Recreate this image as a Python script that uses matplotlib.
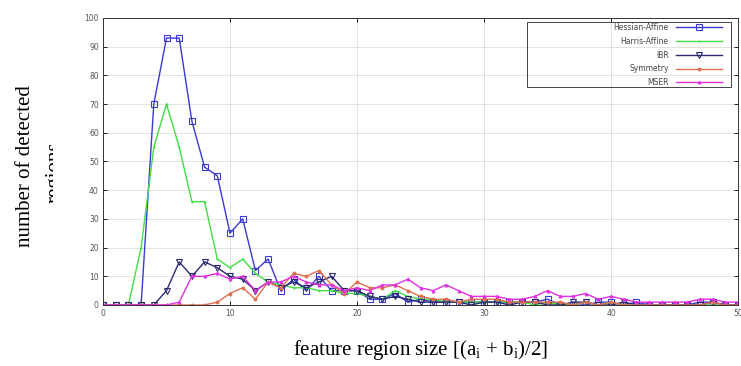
import matplotlib
matplotlib.use("Agg")
import matplotlib.pyplot as plt
from matplotlib.patches import Rectangle

plt.rcParams['mathtext.fontset'] = 'custom'
plt.rcParams['mathtext.rm'] = 'Liberation Serif'
plt.rcParams['mathtext.it'] = 'Liberation Serif:italic'

sizes = list(range(0, 51))

hessian_affine = [0, 0, 0, 0, 70, 93, 93, 64, 48, 45, 25, 30, 12, 16, 5, 9, 5, 10, 5, 5,
                  5, 2, 2, 4, 1, 2, 1, 1, 1, 1, 1, 1, 1, 1, 1, 2, 0, 0, 0, 1,
                  1, 0, 1, 0, 0, 0, 0, 1, 1, 0, 0]
harris_affine = [0, 0, 0, 20, 55, 70, 55, 36, 36, 16, 13, 16, 11, 8, 7, 6, 6, 5, 5, 4,
                 4, 3, 2, 5, 3, 2, 2, 1, 1, 1, 1, 1, 1, 1, 0, 1, 0, 0, 1, 0,
                 1, 0, 0, 0, 0, 0, 0, 0, 0, 0, 0]
ibr = [0, 0, 0, 0, 0, 5, 15, 10, 15, 13, 10, 9, 5, 8, 6, 8, 6, 8, 10, 5,
       5, 3, 2, 3, 2, 1, 1, 1, 1, 0, 1, 1, 0, 1, 1, 0, 0, 1, 1, 0,
       0, 1, 0, 0, 0, 0, 0, 0, 1, 0, 0]
symmetry = [0, 0, 0, 0, 0, 0, 0, 0, 0, 1, 4, 6, 2, 8, 6, 11, 10, 12, 7, 4,
            8, 6, 6, 7, 5, 3, 2, 2, 1, 2, 2, 2, 1, 1, 1, 1, 1, 0, 1, 0,
            1, 0, 0, 0, 0, 0, 0, 0, 1, 0, 0]
mser = [0, 0, 0, 0, 0, 0, 1, 10, 10, 11, 9, 10, 5, 8, 8, 10, 8, 7, 7, 5,
        6, 5, 7, 7, 9, 6, 5, 7, 5, 3, 3, 3, 2, 2, 3, 5, 3, 3, 4, 2,
        3, 2, 1, 1, 1, 1, 1, 2, 2, 1, 1]

series = [
    ("Hessian-Affine", hessian_affine, "#3a3ad0", "s", "none", 3.8),
    ("Harris-Affine", harris_affine, "#40e040", "+", "#40e040", 2.0),
    ("IBR", ibr, "#2a2a70", "v", "none", 3.8),
    ("Symmetry", symmetry, "#e07050", "o", "#e07050", 2.0),
    ("MSER", mser, "#e030e0", "^", "#e030e0", 2.0),
]

fig = plt.figure(figsize=(7.41, 3.66), dpi=100)
ax = fig.add_axes([0.139, 0.1667, 0.857, 0.7843])

for label, vals, color, marker, mfc, ms in series:
    ax.plot(sizes, vals, color=color, lw=1.0, marker=marker, markersize=ms,
            markerfacecolor=mfc, markeredgecolor=color, markeredgewidth=0.8,
            label=label)

ax.set_xlim(0, 50)
ax.set_ylim(0, 100)
ax.set_xticks(range(0, 51, 10))
ax.set_yticks(range(0, 101, 10))
ax.tick_params(direction='in', length=3, width=0.6, labelsize=5.5,
               labelcolor='#555555', top=True, right=True, pad=3)
ax.grid(True, color='#dddddd', lw=0.6)
for s in ax.spines.values():
    s.set_linewidth(0.7)
    s.set_color('#333333')

leg = ax.legend(loc='upper right', markerfirst=False, fontsize=5.5,
                handlelength=6.0, handletextpad=1.0, frameon=False,
                labelspacing=0.62, borderpad=0, borderaxespad=0,
                bbox_to_anchor=(0.975, 0.982))
for t in leg.get_texts():
    t.set_color('#444444')
fig.add_artist(Rectangle((0.711, 0.762), 0.275, 0.178, transform=fig.transFigure,
                         facecolor='none', edgecolor='#444444', lw=0.7, zorder=6))

serif = ['Liberation Serif', 'DejaVu Serif']
ax.set_xlabel(r"feature region size [(a$_\mathrm{i}$ + b$_\mathrm{i}$)/2]",
              family=serif, fontsize=15, labelpad=14)
fig.text(0.035, 0.545, "number of detected", rotation=90, family=serif,
         fontsize=15, ha='center', va='center')
fig.text(0.075, 0.53, "regions", rotation=90, family=serif,
         fontsize=15, ha='center', va='center')
fig.add_artist(Rectangle((0.072, 0.2), 0.03, 0.6, transform=fig.transFigure,
                         facecolor='white', edgecolor='none', zorder=5))

fig.savefig("out.png", dpi=100)
